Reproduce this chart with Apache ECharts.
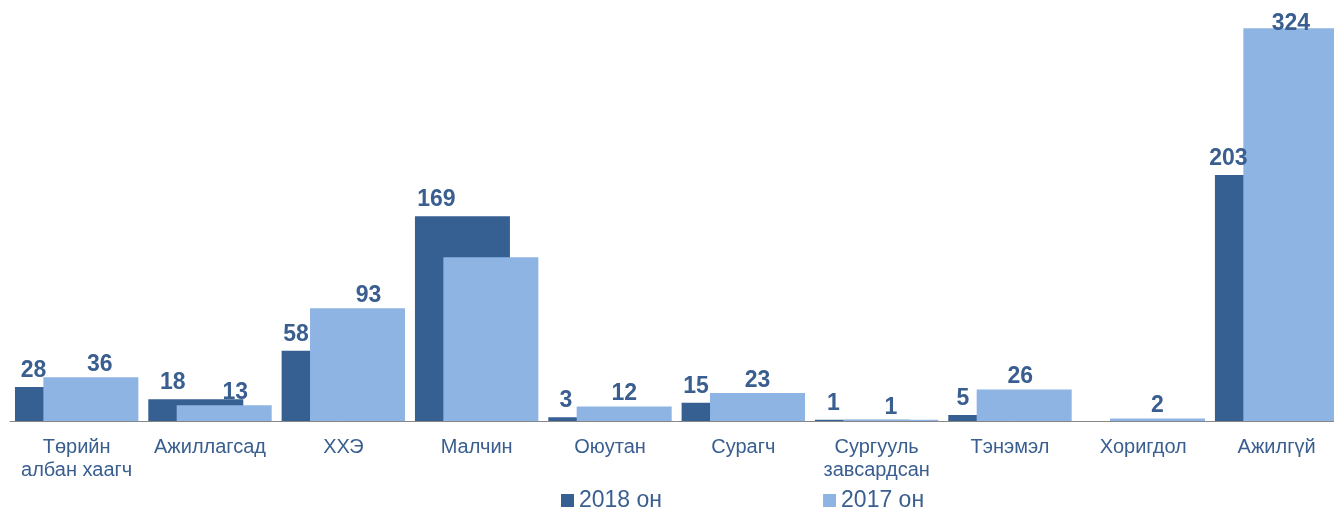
<!DOCTYPE html>
<html>
<head>
<meta charset="utf-8">
<script src="https://cdn.jsdelivr.net/npm/echarts@6/dist/echarts.min.js"></script>
<style>
    html, body { margin: 0; padding: 0; background: #fff; overflow: hidden; }
    #chart { width: 1344px; height: 512px; }
</style>
</head>
<body>
<div id="chart"></div>
<script>
let categories = ['Төрийн\nалбан хаагч', 'Ажиллагсад', 'ХХЭ', 'Малчин', 'Оюутан',
    'Сурагч', 'Сургууль\nзавсардсан', 'Тэнэмэл', 'Хоригдол', 'Ажилгүй'];
let values2018 = [28, 18, 58, 169, 3, 15, 1, 5, 0, 203];
let values2017 = [36, 13, 93, 135, 12, 23, 1, 26, 2, 324];

// label shifts (labels sit over the visible part of the dark bar)
let dx2018 = [-29, -23, -33, -26, -30, -33, -29, -33, 0, -34];
let dx2017 = [9, 11, 11, 0, 0, 0, 0, -4, 0, 0];
let dy2017 = [0, 0, 0, 0, 0, 0, 0, 0, 0, 8];
let hide2017 = [3];

let textColor = '#395e8f';
let font = "'Liberation Sans', Arial, sans-serif";

var myChart = echarts.init(document.getElementById('chart'));

var option = {
    animation: false,
    textStyle: { fontFamily: font },
    grid: {
        left: 10,
        right: 0.7,
        top: 8.9,
        bottom: 91
    },
    legend: {
        left: 561,
        top: 489,
        padding: 0,
        itemWidth: 13,
        itemHeight: 13,
        itemGap: 161,
        icon: 'rect',
        textStyle: { fontSize: 23, color: textColor, fontFamily: font },
        data: ['2018 он', '2017 он']
    },
    xAxis: {
        type: 'category',
        data: categories,
        axisLine: { lineStyle: { color: '#868686', width: 1 } },
        axisTick: { length: 5, lineStyle: { color: '#444' } },
        axisLabel: {
            fontSize: 20,
            lineHeight: 23,
            margin: 15,
            color: textColor,
            fontFamily: font,
            interval: 0
        }
    },
    yAxis: {
        type: 'value',
        min: 0,
        max: 340,
        show: false,
        splitLine: { show: false }
    },
    series: [
        {
            name: '2018 он',
            type: 'bar',
            barWidth: 95,
            barGap: '-70.1%',
            itemStyle: { color: '#376092' },
            data: values2018.map(function (v, i) {
                return {
                    value: v,
                    label: { offset: [dx2018[i], 0], show: v !== 0 }
                };
            }),
            label: {
                show: true,
                position: 'top',
                distance: 5,
                fontSize: 23,
                fontWeight: 'bold',
                color: textColor,
                fontFamily: font
            }
        },
        {
            name: '2017 он',
            type: 'bar',
            barWidth: 95,
            barGap: '-70.1%',
            itemStyle: { color: '#8eb4e3' },
            data: values2017.map(function (v, i) {
                return {
                    value: v,
                    label: { offset: [dx2017[i], dy2017[i]], show: hide2017.indexOf(i) < 0 }
                };
            }),
            label: {
                show: true,
                position: 'top',
                distance: 1,
                fontSize: 23,
                fontWeight: 'bold',
                color: textColor,
                fontFamily: font
            }
        }
    ]
};

myChart.setOption(option);
</script>
</body>
</html>
